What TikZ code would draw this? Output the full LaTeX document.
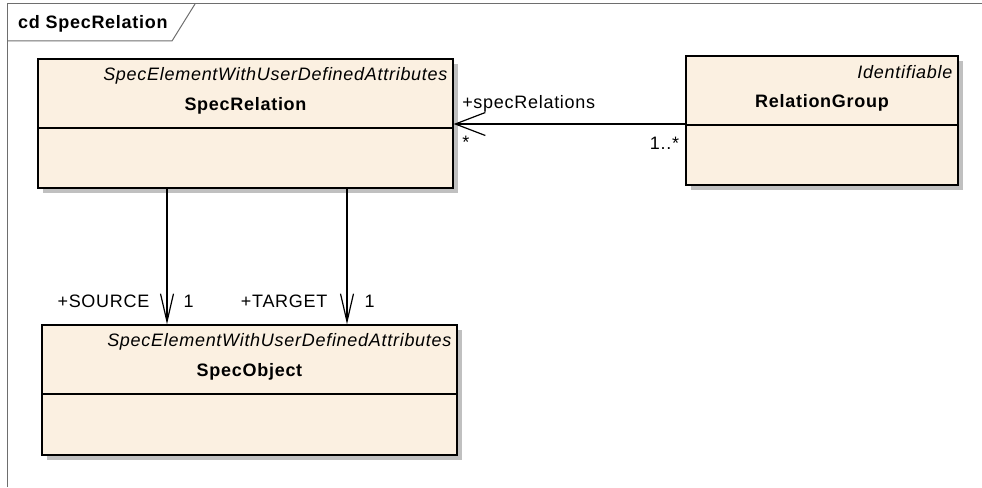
\documentclass[tikz,border=0pt]{standalone}
\usepackage{fontspec}
\setmainfont[LetterSpace=4]{Liberation Sans}
\usetikzlibrary{positioning}
\usetikzlibrary{arrows.meta}
\usetikzlibrary{shadows}

\definecolor{classfill}{RGB}{251,240,225}
\definecolor{shadowgray}{RGB}{192,192,192}
\definecolor{framegray}{RGB}{110,110,110}

\tikzset{
  classbox/.style={draw=black, line width=1.3pt, fill=classfill, inner sep=0pt,
    general shadow={fill=shadowgray, shadow xshift=5pt, shadow yshift=-5pt}},
  stereo/.style={font=\fontsize{18}{20}\selectfont\itshape, inner sep=0pt},
  classname/.style={font=\fontsize{18}{20}\selectfont\bfseries, inner sep=0pt},
  rolelabel/.style={font=\fontsize{18}{20}\selectfont, inner sep=0pt},
  assoc/.style={line width=1.2pt, -{Straight Barb[length=30pt, width=23pt]}},
  nav/.style={line width=1.2pt, -{Straight Barb[length=28pt, width=13pt]}},
}

\begin{document}
\begin{tikzpicture}[x=1pt, y=-1pt]

    \useasboundingbox (0,0) rectangle (982,487);

    \newcommand{\drawClass}[6]{
      % #1 = node name, #2 = centre
      % #3 = width, #4 = height
      % #5 = stereotype, #6 = class name
      \node [classbox, minimum width=#3, minimum height=#4] (#1) at (#2) {};
      \draw [line width=1.3pt] ([yshift=-69.5pt]#1.north west) -- ([yshift=-69.5pt]#1.north east);
      \node [stereo, anchor=east] (#1Stereo) at ([xshift=-6pt, yshift=-17pt]#1.north east) {#5};
      \node [classname] (#1Name) at ([yshift=-47pt]#1.north) {#6};
    }

    % diagram frame
    \draw [framegray, line width=1pt] (7,487) -- (7,4) -- (982,4);
    \draw [framegray, line width=1pt] (7,41) -- (172,41) -- (195,4);
    \node [classname, anchor=base west] (FrameTitle) at (18,29) {cd SpecRelation};

    \drawClass{SpecRelationBox}{245.5,123.5}{415pt}{129pt}{SpecElementWithUserDefinedAttributes}{SpecRelation}
    \drawClass{RelationGroupBox}{822,120.5}{272pt}{129pt}{Identifiable}{RelationGroup}
    \drawClass{SpecObjectBox}{249.5,390}{415pt}{130pt}{SpecElementWithUserDefinedAttributes}{SpecObject}

    % group -> relations
    \coordinate (GroupEnd) at ([yshift=-3.5pt]RelationGroupBox.west);
    \draw [assoc] (GroupEnd) -- (GroupEnd -| SpecRelationBox.east)
      node [rolelabel, anchor=base west, xshift=8pt, yshift=16pt] (RoleRelations) {+specRelations}
      node [rolelabel, anchor=base west, xshift=8pt, yshift=-24pt] (MultRelations) {*};
    \node [rolelabel, anchor=base east] (MultGroup) at ([xshift=-6pt, yshift=-25pt]GroupEnd) {1..*};

    % source and target
    \coordinate (SourceStart) at ([xshift=-78.5pt]SpecRelationBox.south);
    \draw [nav] (SourceStart) -- (SourceStart |- SpecObjectBox.north)
      node [rolelabel, anchor=base east, xshift=-17pt, yshift=17pt] (RoleSource) {+SOURCE}
      node [rolelabel, anchor=base west, xshift=16pt, yshift=17pt] (MultSource) {1};

    \coordinate (TargetStart) at ([xshift=101.5pt]SpecRelationBox.south);
    \draw [nav] (TargetStart) -- (TargetStart |- SpecObjectBox.north)
      node [rolelabel, anchor=base east, xshift=-19pt, yshift=17pt] (RoleTarget) {+TARGET}
      node [rolelabel, anchor=base west, xshift=17pt, yshift=17pt] (MultTarget) {1};

\end{tikzpicture}
\end{document}
